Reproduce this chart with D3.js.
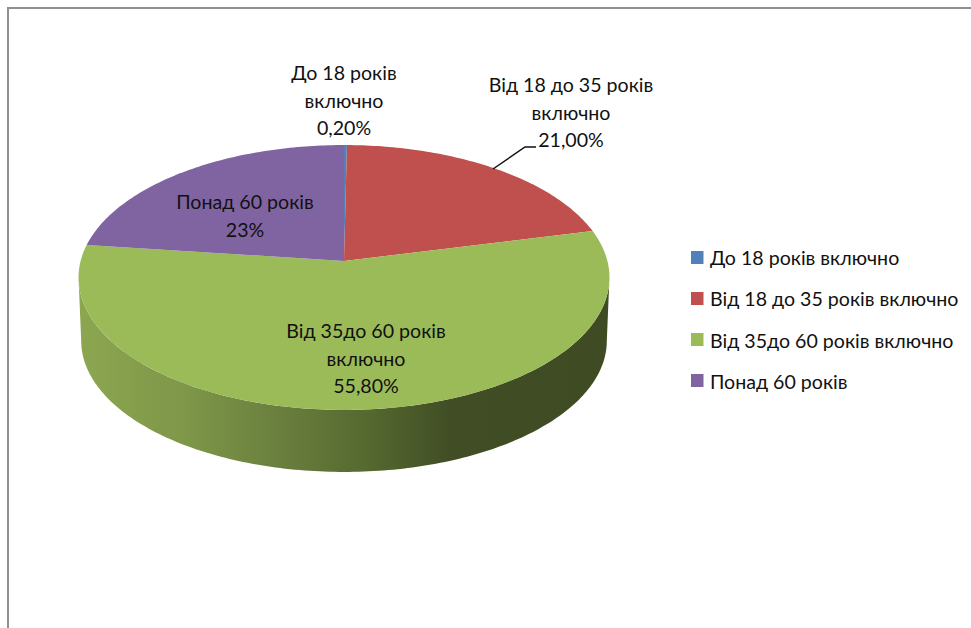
<!DOCTYPE html>
<html lang="uk">

<head>
    <meta charset="utf-8">
    <script src="https://d3js.org/d3.v7.min.js"></script>
    <style>
        html, body { margin: 0; padding: 0; background: #fff; }
        svg { display: block; }
        text { font-family: Lato, "Open Sans", sans-serif; fill: #111; }
    </style>
</head>

<body>
    <script>
        // data
        const categories = ["До 18 років включно", "Від 18 до 35 років включно", "Від 35до 60 років включно", "Понад 60 років"];
        const values = [0.2, 21, 55.8, 23];
        const valueLabels = ["0,20%", "21,00%", "55,80%", "23%"];
        const labelLines = [["До 18 років", "включно"], ["Від 18 до 35 років", "включно"], ["Від 35до 60 років", "включно"], ["Понад 60 років"]];
        const colours = ["#4f81bd", "#c0504d", "#9bbb59", "#8064a2"];

        const width = 971, height = 628;

        // where each data label block sits (centre x, first baseline y)
        const labelPos = [[344, 80], [571, 92], [366, 338], [245, 209]];
        const lineHeight = 27.5;

        const svg = d3.select("body").append("svg")
            .attr("width", width)
            .attr("height", height);

        // gradient for the side wall of the pie
        const wallStops = [[0, "#8ca650"], [0.2, "#7e9749"], [0.4, "#677c3c"], [0.55, "#55682f"], [0.7, "#414e25"], [1, "#3f4b23"]];
        const grad = svg.append("defs").append("linearGradient")
            .attr("id", "wall")
            .attr("gradientUnits", "userSpaceOnUse")
            .attr("x1", 80).attr("x2", 607).attr("y1", 0).attr("y2", 0);
        grad.selectAll("stop")
            .data(wallStops)
            .enter()
            .append("stop")
            .attr("offset", d => d[0])
            .attr("stop-color", d => d[1]);

        // chart frame, open on the right and at the bottom
        svg.append("path")
            .attr("d", d3.line()([[8, height], [8, 8], [width, 8]]))
            .attr("fill", "none")
            .attr("stroke", "#8f8f8f")
            .attr("stroke-width", 2);

        // perspective projection of the pie disc
        const cx = 344, cy = 261, rx = 263.4, ry = 130.4, persp = 0.1245;
        const depth = 63.5, bottomScale = 0.99;

        function project(angle, scale = 1, dy = 0) {
            const u = Math.sin(angle), v = -Math.cos(angle);
            const w = 1 / (1 - persp * v);
            return [cx + scale * rx * u * w, cy + dy + scale * ry * v * w];
        }

        const pie = d3.pie().sort(null).value(d => d);
        const arcs = pie(values);
        const line = d3.line();

        function sampleAngles(a0, a1) {
            const n = Math.max(2, Math.ceil((a1 - a0) * 60));
            return d3.range(n + 1).map(i => a0 + (a1 - a0) * i / n);
        }

        // side wall, only the part facing the viewer
        const visibleFrom = Math.acos(-persp), visibleTo = 2 * Math.PI - visibleFrom;
        arcs.forEach(a => {
            const a0 = Math.max(a.startAngle, visibleFrom), a1 = Math.min(a.endAngle, visibleTo);
            if (a1 <= a0) return;
            const angles = sampleAngles(a0, a1);
            const pts = angles.map(t => project(t))
                .concat(angles.slice().reverse().map(t => project(t, bottomScale, depth)));
            svg.append("path")
                .attr("d", line(pts) + "Z")
                .attr("fill", "url(#wall)");
        });

        // top of the pie
        svg.selectAll(".slice")
            .data(arcs)
            .enter()
            .append("path")
            .attr("class", "slice")
            .attr("d", d => line([[cx, cy]].concat(sampleAngles(d.startAngle, d.endAngle).map(t => project(t)))) + "Z")
            .attr("fill", (d, i) => colours[i]);

        // leader line for the red slice
        svg.append("path")
            .attr("d", line([[493, 169], [525, 147], [536, 147]]))
            .attr("fill", "none")
            .attr("stroke", "#111")
            .attr("stroke-width", 1.5);

        // data labels
        categories.forEach((c, i) => {
            const lines = labelLines[i].concat(valueLabels[i]);
            svg.append("g").selectAll("text")
                .data(lines)
                .enter()
                .append("text")
                .attr("x", labelPos[i][0])
                .attr("y", (d, j) => labelPos[i][1] + j * lineHeight)
                .attr("text-anchor", "middle")
                .style("font-size", "19.6px")
                .text(d => d);
        });

        // legend, the text rows are spaced a little wider than the swatches
        const legendY = d3.scalePoint().domain(categories).range([257.5, 380.5]);
        const legendTextY = d3.scalePoint().domain(categories).range([264.5, 389]);
        svg.selectAll(".swatch")
            .data(categories)
            .enter()
            .append("rect")
            .attr("class", "swatch")
            .attr("x", 691)
            .attr("y", d => legendY(d) - 6.5)
            .attr("width", 12.5)
            .attr("height", 13)
            .attr("fill", (d, i) => colours[i]);
        svg.selectAll(".legend")
            .data(categories)
            .enter()
            .append("text")
            .attr("class", "legend")
            .attr("x", 710)
            .attr("y", d => legendTextY(d))
            .style("font-size", "19.6px")
            .text(d => d);
    </script>
</body>

</html>
